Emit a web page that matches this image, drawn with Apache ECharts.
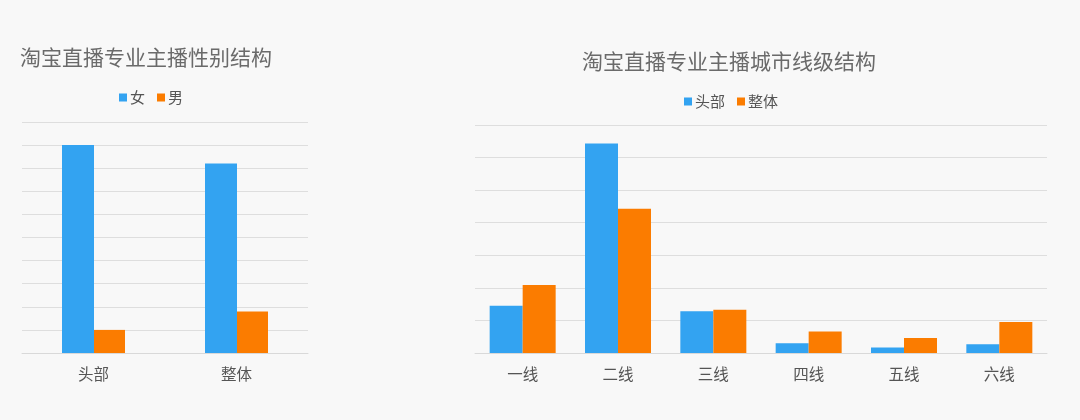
<!DOCTYPE html>
<html>
	<head>
		<meta charset="UTF-8">
		<title>淘宝直播专业主播结构</title>
		<style>
			html,body{margin:0;padding:0;background:#f8f8f8;}
			#main{width:1080px;height:420px;}
		</style>
	</head>
	<body>
		<div id="main"></div>
	</body>
	<script src="https://cdn.jsdelivr.net/npm/echarts@6/dist/echarts.min.js"></script>
	<script type="text/javascript">
		// 性别结构
		var genderCats = ['头部', '整体'];
		var female = [90, 82];
		var male = [10, 18];
		// 城市线级结构
		var cityCats = ['一线', '二线', '三线', '四线', '五线', '六线'];
		var headCity = [14.5, 64.3, 12.8, 3.0, 1.7, 2.7];
		var allCity = [20.9, 44.3, 13.3, 6.6, 4.6, 9.5];

		var blue = '#33a3f1', orange = '#fb7c00';
		var font = '"Noto Sans CJK SC", sans-serif';

		var myChart = echarts.init(document.getElementById('main'));
		var option = {
			backgroundColor: '#f8f8f8',
			textStyle: {fontFamily: font},
			title: [
				{text: '淘宝直播专业主播性别结构', left: 15, top: 42,
				 textStyle: {fontSize: 21, fontWeight: 'normal', color: '#6a6a6a', fontFamily: font}},
				{text: '淘宝直播专业主播城市线级结构', left: 577, top: 46,
				 textStyle: {fontSize: 21, fontWeight: 'normal', color: '#6a6a6a', fontFamily: font}}
			],
			legend: [
				{data: ['女', '男'], left: 114, top: 85, itemWidth: 8, itemHeight: 8, itemGap: 12,
				 icon: 'rect', textStyle: {fontSize: 15, color: '#555', padding: [0, 0, 0, -2]}},
				{data: ['头部', '整体'], left: 679, top: 89, itemWidth: 8, itemHeight: 8, itemGap: 12,
				 icon: 'rect', textStyle: {fontSize: 15, color: '#555', padding: [0, 0, 0, -2]}}
			],
			grid: [
				{left: 22, right: 772, top: 122, bottom: 67},
				{left: 475, right: 33, top: 125, bottom: 67}
			],
			xAxis: [
				{type: 'category', gridIndex: 0, data: genderCats,
				 axisLine: {lineStyle: {color: '#d9d9d9'}}, axisTick: {show: false},
				 axisLabel: {fontSize: 15.5, color: '#555', margin: 13}},
				{type: 'category', gridIndex: 1, data: cityCats,
				 axisLine: {lineStyle: {color: '#d9d9d9'}}, axisTick: {show: false},
				 axisLabel: {fontSize: 15.5, color: '#555', margin: 13}}
			],
			yAxis: [
				{type: 'value', gridIndex: 0, min: 0, max: 100, interval: 10,
				 axisLabel: {show: false}, axisLine: {show: false}, axisTick: {show: false},
				 splitLine: {lineStyle: {color: '#dedede'}}},
				{type: 'value', gridIndex: 1, min: 0, max: 70, interval: 10,
				 axisLabel: {show: false}, axisLine: {show: false}, axisTick: {show: false},
				 splitLine: {lineStyle: {color: '#dedede'}}}
			],
			series: [
				{name: '女', type: 'bar', xAxisIndex: 0, yAxisIndex: 0, data: female,
				 barWidth: 32, barGap: '0%', itemStyle: {color: blue}},
				{name: '男', type: 'bar', xAxisIndex: 0, yAxisIndex: 0, data: male,
				 barWidth: 31, barGap: '0%', itemStyle: {color: orange}},
				{name: '头部', type: 'bar', xAxisIndex: 1, yAxisIndex: 1, data: headCity,
				 barWidth: 33, barGap: '0%', itemStyle: {color: blue}},
				{name: '整体', type: 'bar', xAxisIndex: 1, yAxisIndex: 1, data: allCity,
				 barWidth: 33, barGap: '0%', itemStyle: {color: orange}}
			]
		};
		myChart.setOption(option);
	</script>
</html>
